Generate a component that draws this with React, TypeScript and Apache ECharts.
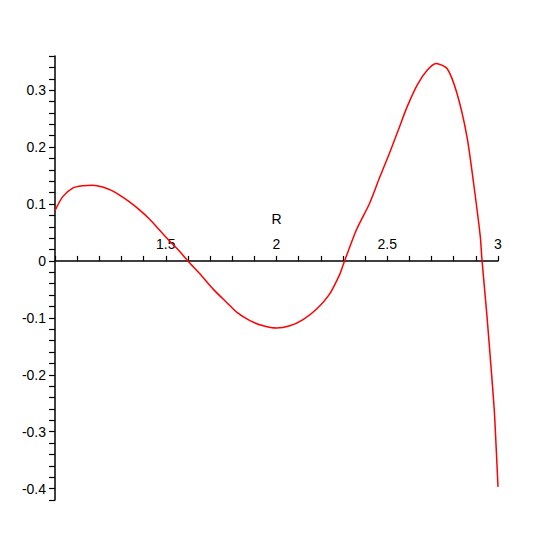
import React, { useEffect, useRef } from "react";
import * as echarts from "echarts";

const rValues = [
  1.0, 1.035, 1.08, 1.125, 1.17, 1.215, 1.255, 1.29, 1.335, 1.38, 1.425, 1.47,
  1.515, 1.56, 1.6, 1.655, 1.715, 1.775, 1.82, 1.88, 1.94, 2.0, 2.06, 2.12,
  2.18, 2.24, 2.285, 2.3, 2.36, 2.42, 2.465, 2.51, 2.55, 2.59, 2.635, 2.68,
  2.72, 2.77, 2.815, 2.86, 2.89, 2.92, 2.927, 2.95, 2.968, 2.983, 2.992, 3.0,
];
const fValues = [
  0.0885, 0.113, 0.128, 0.132, 0.133, 0.13, 0.124, 0.116, 0.104, 0.09, 0.074,
  0.055, 0.036, 0.018, 0, -0.023, -0.05, -0.073, -0.09, -0.105, -0.114,
  -0.118, -0.114, -0.103, -0.085, -0.058, -0.024, -0.008, 0.054, 0.101, 0.146,
  0.189, 0.23, 0.271, 0.309, 0.335, 0.347, 0.338, 0.294, 0.218, 0.136, 0.043,
  0.005, -0.096, -0.184, -0.261, -0.33, -0.397,
];
const xAxisName = "R";
const xNameAt = 2;
const xTickLabelValues = [1.5, 2, 2.5, 3];
const xTickLabels = ["1.5", "2", "2.5", "3"];
const xMin = 1;
const xMax = 3;
const xStep = 0.1;
const yMin = -0.42;
const yMax = 0.36;
const yStep = 0.02;
const yLabelStep = 0.1;

const isMultiple = (v: number, step: number) =>
  Math.abs(v / step - Math.round(v / step)) < 1e-6;

export default function App() {
  const ref = useRef<HTMLDivElement>(null);
  useEffect(() => {
    if (!ref.current) return;
    const chart = echarts.init(ref.current, undefined, { renderer: "svg" });
    const font = "'Liberation Sans', Arial, sans-serif";
    chart.setOption({
      animation: false,
      backgroundColor: "#ffffff",
      grid: { left: 55, right: 56, top: 56, bottom: 54 },
      xAxis: {
        type: "value",
        position: "bottom",
        min: xMin,
        max: xMax,
        interval: xStep,
        axisLine: {
          onZero: true,
          lineStyle: { color: "#000", width: 1.5 },
        },
        axisTick: {
          show: true,
          inside: true,
          length: 5,
          lineStyle: { color: "#000", width: 1.2 },
        },
        axisLabel: { show: false },
        splitLine: { show: false },
      },
      yAxis: {
        type: "value",
        min: yMin,
        max: yMax,
        interval: yStep,
        axisLine: {
          show: true,
          onZero: false,
          lineStyle: { color: "#000", width: 1.5 },
        },
        axisTick: { show: true, length: 6, lineStyle: { color: "#000", width: 1.2 } },
        axisLabel: {
          color: "#000",
          fontFamily: font,
          fontSize: 14,
          margin: 9,
          showMinLabel: true,
          showMaxLabel: true,
          formatter: (v: number) =>
            isMultiple(v, yLabelStep) ? String(Math.round(v * 10) / 10) : "",
        },
        splitLine: { show: false },
      },
      series: [
        {
          type: "line",
          data: rValues.map((r, i) => [r, fValues[i]]),
          showSymbol: false,
          smooth: 0.25,
          lineStyle: { color: "#ff0000", width: 1.5 },
          itemStyle: { color: "#ff0000" },
          clip: false,
        },
      ],
    });

    const texts: any[] = xTickLabelValues.map((v, i) => {
      const p = chart.convertToPixel({ gridIndex: 0 }, [v, 0]) as number[];
      return {
        type: "text",
        x: p[0],
        y: p[1] - 17,
        style: {
          text: xTickLabels[i],
          fill: "#000",
          font: `14px ${font}`,
          align: "center",
          verticalAlign: "middle",
        },
      };
    });
    const np = chart.convertToPixel({ gridIndex: 0 }, [xNameAt, 0]) as number[];
    texts.push({
      type: "text",
      x: np[0],
      y: np[1] - 42,
      style: {
        text: xAxisName,
        fill: "#000",
        font: `14px ${font}`,
        align: "center",
        verticalAlign: "middle",
      },
    });
    chart.setOption({ graphic: texts });

    return () => chart.dispose();
  }, []);
  return (
    <div
      ref={ref}
      style={{ position: "fixed", left: 0, top: 0, width: 554, height: 554 }}
    />
  );
}
